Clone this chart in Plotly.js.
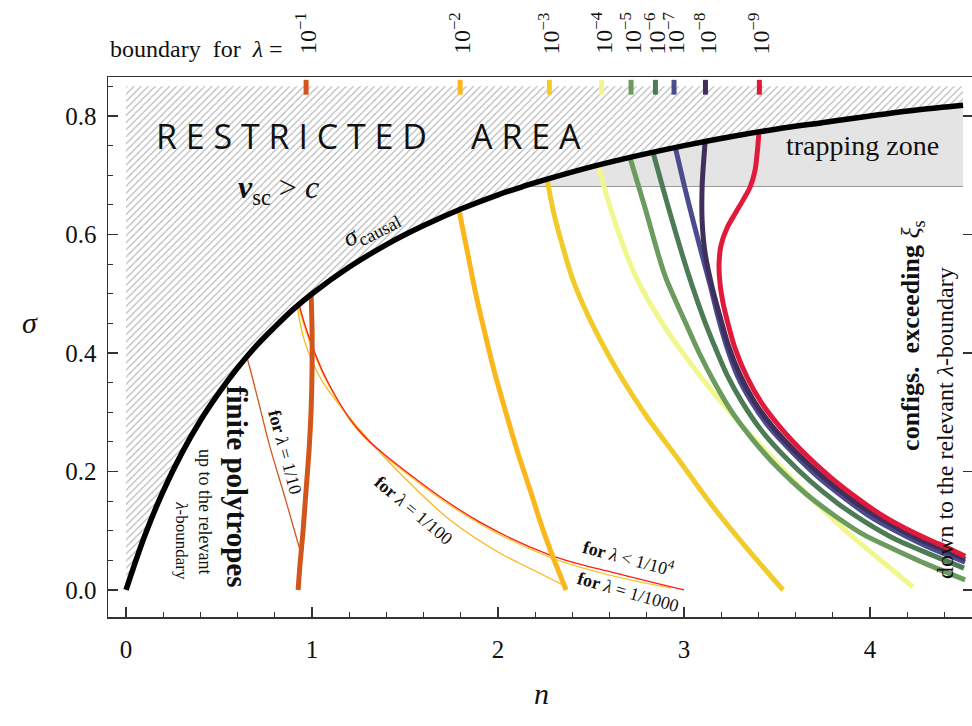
<!DOCTYPE html>
<html><head><meta charset="utf-8">
<script src="https://cdn.plot.ly/plotly-3.0.1.min.js"></script>
<style>html,body{margin:0;padding:0;background:#fff;overflow:hidden}</style>
</head><body><div id="chart" style="width:972px;height:726px"></div>
<script>
// causal boundary sigma(n)
const causalN = [0,0.1,0.2,0.3,0.4,0.5,0.6,0.7,0.8,0.9,1.0,1.2,1.4,1.6,1.8,2.0,2.135,2.25,2.5,2.75,3.0,3.25,3.5,3.75,4.0,4.25,4.5];
const causalS = [0,0.091,0.167,0.231,0.286,0.333,0.375,0.412,0.444,0.474,0.5,0.545,0.583,0.615,0.643,0.667,0.681,0.692,0.714,0.733,0.75,0.765,0.778,0.789,0.8,0.81,0.818];
const hatchTop = 0.85;
const trapBottom = 0.681;
const trapStart = 2.135;

// lambda boundaries
const lambdaLabels = ["10<sup>−1</sup>","10<sup>−2</sup>","10<sup>−3</sup>","10<sup>−4</sup>","10<sup>−5</sup>","10<sup>−6</sup>","10<sup>−7</sup>","10<sup>−8</sup>","10<sup>−9</sup>"];
const boundN = [0.968,1.796,2.276,2.557,2.715,2.846,2.946,3.115,3.405];
const lambdaColors = ["#d1561c","#fbb61c","#f2cb2a","#f1f78c","#6b9b5f","#4c7b56","#4b4b8f","#402e5b","#e1193b"];

const l1N = [0.995,1.0,1.0,0.995,0.984,0.968,0.952,0.935,0.925];
const l1S = [0.498,0.439,0.371,0.304,0.236,0.169,0.101,0.042,0.0];
const l2N = [1.790,1.833,1.876,1.925,1.978,2.038,2.102,2.172,2.242,2.306,2.366];
const l2S = [0.641,0.574,0.506,0.439,0.371,0.304,0.236,0.169,0.101,0.047,0.0];
const l3N = [2.263,2.296,2.333,2.403,2.495,2.640,2.801,2.973,3.140,3.328,3.532];
const l3S = [0.694,0.641,0.596,0.523,0.456,0.371,0.292,0.219,0.147,0.074,0.0];
const l4N = [2.538,2.591,2.656,2.742,2.871,3.022,3.156,3.333,3.516,3.694,3.876,4.054,4.231];
const l4S = [0.717,0.658,0.596,0.528,0.456,0.388,0.334,0.270,0.209,0.152,0.098,0.051,0.005];
const l5N = [2.710,2.790,2.898,3.011,3.086,3.167,3.258,3.371,3.511,3.656,3.812,3.968,4.134,4.301,4.511];
const l5S = [0.729,0.645,0.530,0.449,0.397,0.348,0.300,0.253,0.204,0.162,0.125,0.093,0.068,0.044,0.017];
const l6N = [2.833,2.909,3.016,3.102,3.161,3.231,3.312,3.414,3.538,3.677,3.823,3.973,4.134,4.317,4.505];
const l6S = [0.739,0.653,0.540,0.461,0.414,0.363,0.317,0.270,0.226,0.184,0.147,0.115,0.086,0.061,0.037];
const l7N = [2.952,3.0,3.048,3.097,3.140,3.183,3.226,3.285,3.360,3.457,3.581,3.720,3.855,3.995,4.129,4.269,4.376,4.511];
const l7S = [0.748,0.684,0.624,0.565,0.515,0.461,0.414,0.363,0.319,0.275,0.233,0.191,0.157,0.125,0.101,0.079,0.064,0.047];
const l8N = [3.113,3.102,3.097,3.097,3.113,3.151,3.194,3.237,3.301,3.376,3.478,3.602,3.747,3.882,4.022,4.156,4.296,4.398,4.511];
const l8S = [0.756,0.709,0.680,0.624,0.569,0.511,0.461,0.414,0.363,0.319,0.275,0.233,0.191,0.157,0.127,0.103,0.081,0.068,0.052];
const l9N = [3.403,3.392,3.382,3.355,3.317,3.274,3.231,3.199,3.188,3.194,3.210,3.231,3.274,3.339,3.414,3.516,3.640,3.785,3.914,4.054,4.183,4.323,4.419,4.511];
const l9S = [0.773,0.734,0.709,0.680,0.658,0.635,0.611,0.582,0.549,0.515,0.484,0.456,0.408,0.359,0.317,0.275,0.233,0.191,0.159,0.128,0.105,0.084,0.071,0.057];

// finite polytrope limits (thin)
const t10N = [0.649,0.683,0.73,0.774,0.86,0.94];
const t10S = [0.394,0.354,0.295,0.241,0.15,0.062];
const t100N = [0.92,0.96,1.052,1.258,1.473,1.742,2.011,2.2,2.37];
const t100S = [0.479,0.42,0.354,0.27,0.197,0.118,0.062,0.032,0.005];
const t1000N = [0.925,0.975,1.075,1.245,1.56,1.9,2.28,2.6,2.93];
const t1000S = [0.481,0.43,0.354,0.27,0.184,0.112,0.055,0.025,0.003];
const t10kN = [0.93,0.98,1.08,1.25,1.563,1.9,2.28,2.638,3.0];
const t10kS = [0.482,0.43,0.354,0.27,0.186,0.115,0.059,0.028,0.0];

const traces = [];
const last = causalN[causalN.length-1];
// hatched restricted area
traces.push({x: causalN.concat([last, 0, 0]), y: causalS.concat([hatchTop, hatchTop, 0]),
  mode:'lines', fill:'toself', fillcolor:'rgba(0,0,0,0)', line:{width:0},
  fillpattern:{shape:'/', fgcolor:'#a8a8a8', bgcolor:'#ffffff', size:5, solidity:0.2},
  hoverinfo:'skip', showlegend:false});
// trapping zone
const tzN = [], tzS = [];
causalN.forEach((n,i)=>{ if(n>=trapStart){ tzN.push(n); tzS.push(causalS[i]); } });
traces.push({x: tzN.concat([last, trapStart]), y: tzS.concat([trapBottom, trapBottom]),
  mode:'lines', fill:'toself', fillcolor:'#e4e4e4', line:{width:0}, hoverinfo:'skip', showlegend:false});
traces.push({x:[trapStart,last], y:[trapBottom,trapBottom], mode:'lines', line:{color:'#9a9a9a', width:1.2}, showlegend:false});

// thin lines
const thin = [[t10N,t10S,lambdaColors[0]],[t100N,t100S,lambdaColors[1]],[t1000N,t1000S,lambdaColors[2]],[t10kN,t10kS,'#ff1a1a']];
thin.forEach(t=>traces.push({x:t[0], y:t[1], mode:'lines', line:{color:t[2], width:1.3, shape:'spline'}, showlegend:false}));

// thick lambda boundaries
const thick = [[l1N,l1S],[l2N,l2S],[l3N,l3S],[l4N,l4S],[l5N,l5S],[l6N,l6S],[l7N,l7S],[l8N,l8S],[l9N,l9S]];
thick.forEach((t,i)=>traces.push({x:t[0], y:t[1], mode:'lines', line:{color:lambdaColors[i], width:5, shape:'spline', smoothing:0.8}, showlegend:false}));

// causal curve
traces.push({x:causalN, y:causalS, mode:'lines', line:{color:'#000', width:5.5, shape:'spline'}, showlegend:false});

// top markers
boundN.forEach((b,i)=>traces.push({x:[b,b], y:[0.836,0.861], mode:'lines', line:{color:lambdaColors[i], width:5}, showlegend:false}));

// dummy trace for right axis ticks
traces.push({x:[0], y:[0], yaxis:'y2', mode:'markers', marker:{opacity:0}, showlegend:false, hoverinfo:'skip'});

const serif = "Liberation Serif, DejaVu Serif, serif";
const ann = [];
lambdaLabels.forEach((t,i)=>ann.push({x:boundN[i], y:1, xref:'x', yref:'paper', text:t, showarrow:false,
  textangle:-90, yanchor:'bottom', xanchor:'center', yshift:21, font:{family:serif, size:24, color:'#111'}}));
ann.push({x:0, y:1.052, xref:'paper', yref:'paper', xanchor:'left', yanchor:'middle', showarrow:false,
  text:'boundary\u00A0 for\u00A0 <i>λ</i> =', font:{family:serif, size:24, color:'#111'}});
function A(x,y,text,size,angle,extra){ ann.push(Object.assign({x:x,y:y,xref:'x',yref:'y',text:text,showarrow:false,textangle:angle||0,
  font:{family:serif,size:size,color:'#111'}},extra||{})); }
A(1.306,0.766,'R E S T R I C T E D\u00A0\u00A0\u00A0\u00A0 A R E A',34,0,{font:{family:'Open Sans, DejaVu Sans, sans-serif',size:34,color:'#111'}});
A(0.82,0.676,'<b><i>v</i></b><sub>sc</sub> > <i>c</i>',32,0);
A(1.317,0.611,'<i>σ</i><sub>causal</sub>',26,-27);
A(3.96,0.751,'trapping zone',28,0);
A(0.597,0.174,'<b>finite polytropes</b>',29,90);
A(0.425,0.133,'up to the relevant',18,90);
A(0.301,0.084,'<i>λ</i>-boundary',17,90);
A(0.855,0.233,'<b>for</b> <i>λ</i> = 1/10',18,75);
A(1.543,0.135,'<b>for</b> <i>λ</i> = 1/100',18,40);
A(2.699,0.054,'<b>for</b> <i>λ</i> < 1/10<sup>4</sup>',18,15);
A(2.699,-0.003,'<b>for</b> <i>λ</i> = 1/1000',18,16);
A(4.226,0.429,'<b>configs.\u00A0 exceeding</b> <i>ξ</i><sub>s</sub>',26,-90);
A(4.403,0.282,'down to the relevant <i>λ</i>-boundary',24,-90);
// axis titles
ann.push({x:0.502, y:-0.176, xref:'paper', yref:'paper', text:'<i>n</i>', showarrow:false, font:{family:serif,size:30,color:'#111'}});
ann.push({x:-0.102, y:0.545, xref:'paper', yref:'paper', text:'<i>σ</i>', showarrow:false, font:{family:serif,size:30,color:'#111'}});

const layout = {
  width:972, height:726, margin:{l:108, r:0, t:77, b:109},
  paper_bgcolor:'#fff', plot_bgcolor:'#fff', showlegend:false,
  xaxis:{range:[-0.097,4.548], tickvals:[0,1,2,3,4], ticks:'inside', ticklen:10, tickwidth:1.2, tickcolor:'#333',
    minor:{dtick:0.2, tick0:0, ticks:'inside', ticklen:5, tickwidth:1, tickcolor:'#333'},
    showline:true, linecolor:'#333', linewidth:1.5, mirror:true, showgrid:false, zeroline:false,
    tickfont:{family:serif, size:25, color:'#111'}, ticklabelstandoff:9},
  yaxis:{range:[-0.0456,0.8658], tick0:0, dtick:0.2, tickformat:'.1f', ticks:'inside', ticklen:10, tickwidth:1.2, tickcolor:'#333',
    minor:{dtick:0.05, tick0:0, ticks:'inside', ticklen:5, tickwidth:1, tickcolor:'#333'},
    showline:true, linecolor:'#333', linewidth:1.5, mirror:true, showgrid:false, zeroline:false,
    tickfont:{family:serif, size:25, color:'#111'}, ticklabelstandoff:5},
  yaxis2:{overlaying:'y', side:'right', range:[-0.0456,0.8658], tick0:0, dtick:0.2, ticks:'inside', ticklen:9, tickwidth:1.2,
    tickcolor:'#333', showticklabels:false, showgrid:false, zeroline:false, showline:false},
  annotations: ann
};
Plotly.newPlot('chart', traces, layout, {staticPlot:true, displayModeBar:false});
</script></body></html>
